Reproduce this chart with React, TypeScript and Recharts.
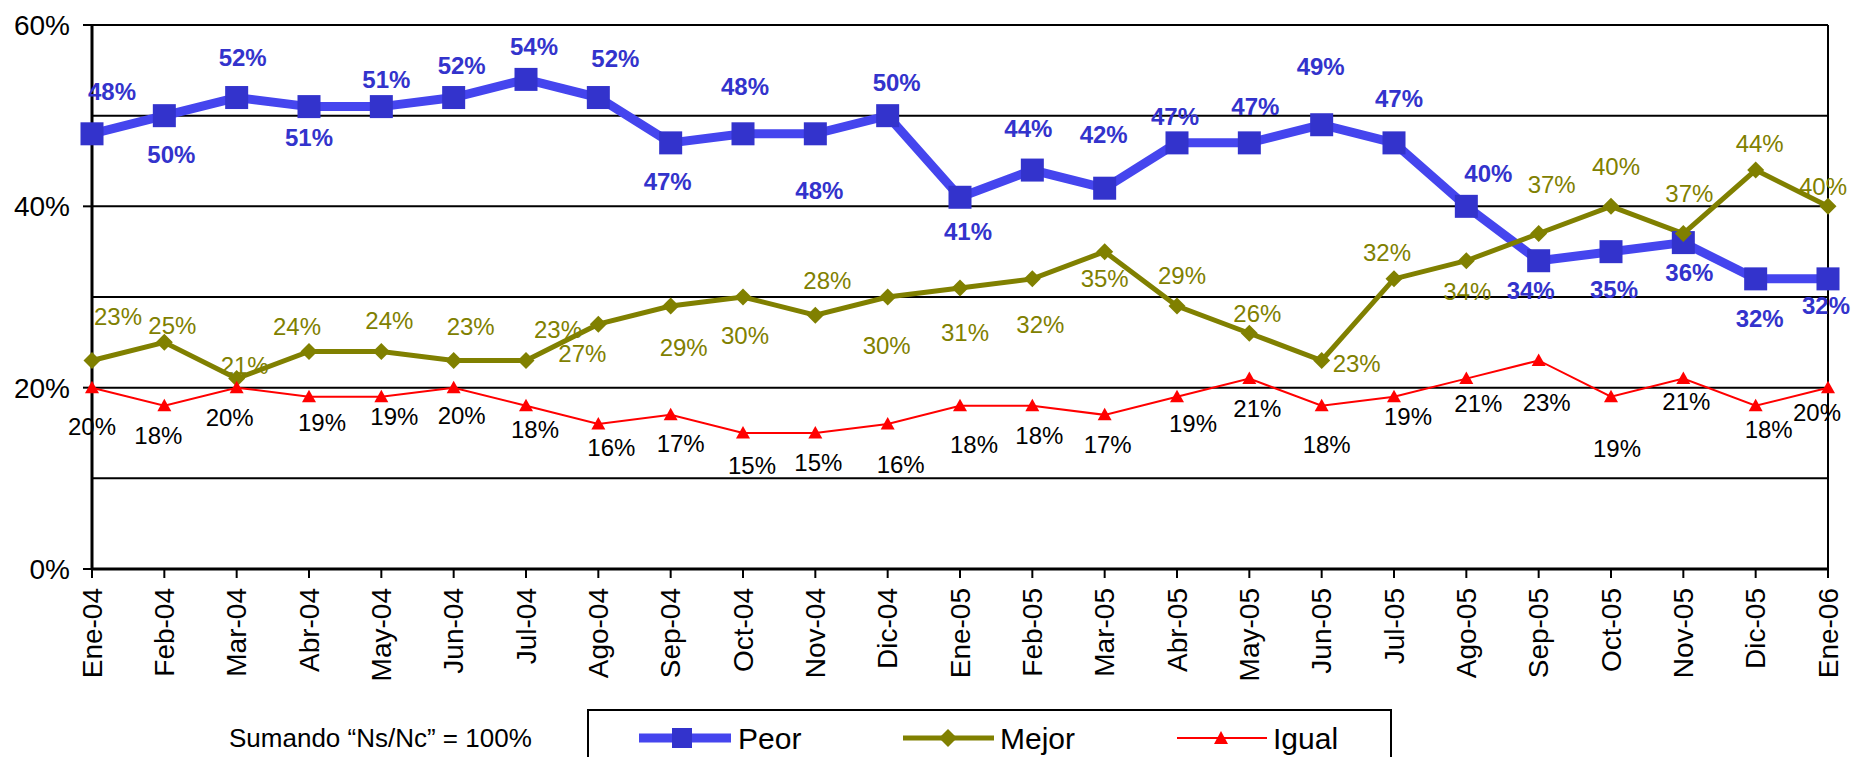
import React from 'react';
import { LineChart, Line, XAxis, YAxis, ReferenceLine, LabelList, Legend } from 'recharts';

const months = ['Ene-04', 'Feb-04', 'Mar-04', 'Abr-04', 'May-04', 'Jun-04', 'Jul-04', 'Ago-04', 'Sep-04', 'Oct-04', 'Nov-04', 'Dic-04', 'Ene-05', 'Feb-05', 'Mar-05', 'Abr-05', 'May-05', 'Jun-05', 'Jul-05', 'Ago-05', 'Sep-05', 'Oct-05', 'Nov-05', 'Dic-05', 'Ene-06'];
const peor = [48, 50, 52, 51, 51, 52, 54, 52, 47, 48, 48, 50, 41, 44, 42, 47, 47, 49, 47, 40, 34, 35, 36, 32, 32];
const mejor = [23, 25, 21, 24, 24, 23, 23, 27, 29, 30, 28, 30, 31, 32, 35, 29, 26, 23, 32, 34, 37, 40, 37, 44, 40];
const igual = [20, 18, 20, 19, 19, 20, 18, 16, 17, 15, 15, 16, 18, 18, 17, 19, 21, 18, 19, 21, 23, 19, 21, 18, 20];

const yTicks = [0, 20, 40, 60];
const yGrid = [10, 20, 30, 40, 50, 60];
const footnote = 'Sumando \u201CNs/Nc\u201D = 100%';

// label placement (dx, dy) relative to each point
const peorLabelPos: [number, number][] = [
  [20, -42], [7, 39], [6, -40], [0, 31], [5, -27], [8, -32], [8, -33], [17, -39], [-3, 39], [2, -47],
  [4, 57], [9, -33], [8, 34], [-4, -42], [-1, -54], [-2, -26], [6, -36], [-1, -58], [5, -44], [22, -33],
  [-8, 30], [3, 38], [6, 30], [4, 40], [-2, 27],
];
const mejorLabelPos: [number, number][] = [
  [26, -44], [8, -17], [8, -13], [-12, -25], [8, -31], [17, -34], [32, -31], [-16, 29], [13, 41], [2, 38],
  [12, -35], [-1, 48], [5, 45], [8, 46], [0, 27], [5, -31], [8, -20], [35, 3], [-7, -26], [1, 31],
  [13, -49], [5, -40], [6, -40], [4, -27], [-5, -20],
];
const igualLabelPos: [number, number][] = [
  [0, 39], [-6, 30], [-7, 30], [13, 26], [13, 20], [8, 28], [9, 24], [13, 24], [10, 29], [9, 32],
  [3, 29], [13, 41], [14, 39], [7, 30], [3, 30], [16, 27], [8, 30], [5, 39], [14, 20], [12, 25],
  [8, 42], [6, 52], [3, 23], [13, 24], [-11, 25],
];

const data = months.map((m, i) => ({ month: m, peor: peor[i], mejor: mejor[i], igual: igual[i] }));

const FONT = '"Liberation Sans", Arial, sans-serif';
const BLUE_LINE = '#4545ee';
const BLUE_MARK = '#3333CC';
const OLIVE = '#808000';
const RED = '#FF0000';

const makeLabel = (pos: [number, number][], color: string, bold: boolean) => (props: any) => {
  const { x, y, value, index } = props;
  const p = pos[index] || [0, -20];
  return (
    <text
      x={x + p[0]}
      y={y + p[1]}
      textAnchor="middle"
      dominantBaseline="central"
      fontFamily={FONT}
      fontSize={24}
      fontWeight={bold ? 'bold' : 'normal'}
      fill={color}
    >
      {value}%
    </text>
  );
};

const SquareDot = (p: any) => (
  <rect key={`sq-${p.index}`} x={p.cx - 11.5} y={p.cy - 11.5} width={23} height={23} fill={BLUE_MARK} />
);
const DiamondDot = (p: any) => (
  <path key={`dm-${p.index}`} d={`M${p.cx},${p.cy - 8.5} L${p.cx + 8.5},${p.cy} L${p.cx},${p.cy + 8.5} L${p.cx - 8.5},${p.cy} Z`} fill={OLIVE} />
);
const TriDot = (p: any) => (
  <path key={`tr-${p.index}`} d={`M${p.cx},${p.cy - 7} L${p.cx + 7},${p.cy + 5.5} L${p.cx - 7},${p.cy + 5.5} Z`} fill={RED} />
);

const XTick = (props: any) => {
  const { x, y, payload } = props;
  return (
    <text
      transform={`translate(${x},${y}) rotate(-90)`}
      textAnchor="end"
      dominantBaseline="central"
      fontFamily={FONT}
      fontSize={28}
      fill="#000"
    >
      {payload.value}
    </text>
  );
};

const LegendContent = () => (
  <svg width={1200} height={52} style={{ display: 'block' }}>
    <text x={29} y={33} dominantBaseline="central" fontFamily={FONT} fontSize={26} fill="#000">{footnote}</text>
    <rect x={388} y={5} width={803} height={70} fill="#fff" stroke="#000" strokeWidth={2} />
    <line x1={439} x2={531} y1={33} y2={33} stroke={BLUE_LINE} strokeWidth={9} />
    <rect x={472} y={23} width={20} height={20} fill={BLUE_MARK} />
    <text x={538} y={33} dominantBaseline="central" fontFamily={FONT} fontSize={30} fill="#000">Peor</text>
    <line x1={703} x2={794} y1={33} y2={33} stroke={OLIVE} strokeWidth={5} />
    <path d="M748,24 L757,33 L748,42 L739,33 Z" fill={OLIVE} />
    <text x={800} y={33} dominantBaseline="central" fontFamily={FONT} fontSize={30} fill="#000">Mejor</text>
    <line x1={977} x2={1067} y1={33} y2={33} stroke={RED} strokeWidth={2} />
    <path d="M1021,26 L1028,39 L1014,39 Z" fill={RED} />
    <text x={1073} y={33} dominantBaseline="central" fontFamily={FONT} fontSize={30} fill="#000">Igual</text>
  </svg>
);

export default function App() {
  return (
    <div style={{ position: 'absolute', left: 0, top: 0, width: 1851, height: 757, background: '#fff' }}>
      <LineChart
        width={1851}
        height={757}
        data={data}
        margin={{ top: 25, right: 23, bottom: 68, left: 12 }}
      >
        <XAxis
          dataKey="month"
          interval={0}
          height={120}
          tickSize={9}
          tickMargin={10}
          tick={<XTick />}
          tickLine={{ stroke: '#000', strokeWidth: 2 }}
          axisLine={{ stroke: '#000', strokeWidth: 3 }}
        />
        <YAxis
          width={80}
          domain={[0, 60]}
          ticks={yTicks}
          interval={0}
          tickSize={9}
          tickMargin={13}
          tickFormatter={(v: number) => `${v}%`}
          tick={{ fontSize: 28, fill: '#000', fontFamily: FONT }}
          tickLine={{ stroke: '#000', strokeWidth: 2 }}
          axisLine={{ stroke: '#000', strokeWidth: 3 }}
        />
        {yGrid.map((v) => (
          <ReferenceLine key={`g${v}`} y={v} stroke="#000" strokeWidth={2} />
        ))}
        <ReferenceLine x={months[months.length - 1]} stroke="#000" strokeWidth={2} />
        <Legend
          layout="horizontal"
          verticalAlign="middle"
          align="center"
          content={<LegendContent />}
          wrapperStyle={{ position: 'absolute', left: 200, top: 705, width: 1200, height: 52 }}
        />
        <Line
          dataKey="peor"
          name="Peor"
          stroke={BLUE_LINE}
          strokeWidth={9}
          dot={SquareDot}
          activeDot={false}
          isAnimationActive={false}
        >
          <LabelList dataKey="peor" content={makeLabel(peorLabelPos, BLUE_MARK, true)} />
        </Line>
        <Line
          dataKey="mejor"
          name="Mejor"
          stroke={OLIVE}
          strokeWidth={5}
          dot={DiamondDot}
          activeDot={false}
          isAnimationActive={false}
        >
          <LabelList dataKey="mejor" content={makeLabel(mejorLabelPos, OLIVE, false)} />
        </Line>
        <Line
          dataKey="igual"
          name="Igual"
          stroke={RED}
          strokeWidth={2}
          dot={TriDot}
          activeDot={false}
          isAnimationActive={false}
        >
          <LabelList dataKey="igual" content={makeLabel(igualLabelPos, '#000', false)} />
        </Line>
      </LineChart>
    </div>
  );
}
